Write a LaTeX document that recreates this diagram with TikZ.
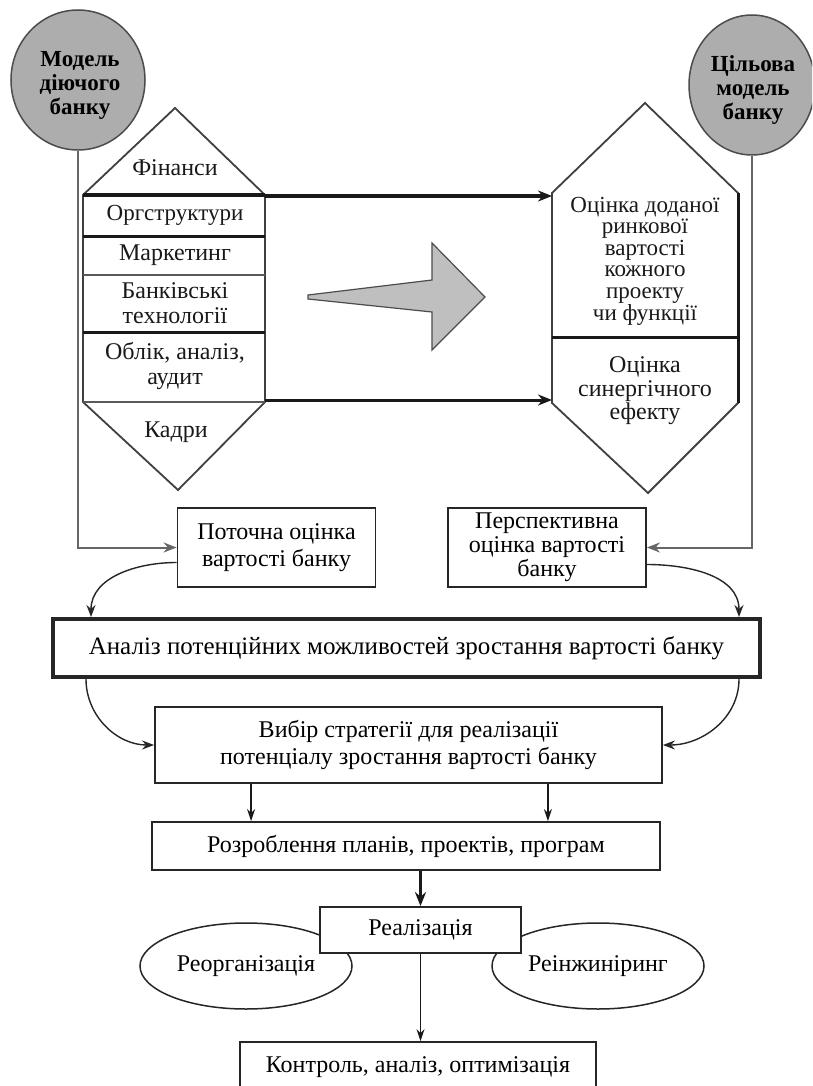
\documentclass[tikz,border=0pt]{standalone}
\usepackage{fontspec}
\setmainfont{Liberation Serif}
\usetikzlibrary{shapes.geometric,arrows.meta,calc}
\begin{document}
\begin{tikzpicture}[x=1pt,y=-1pt,
  txt/.style={font=\fontsize{24}{25}\selectfont, align=center, inner sep=0pt, text=black!90},
  ctxt/.style={font=\fontsize{23}{24}\selectfont\bfseries, align=center, inner sep=0pt},
  bubble/.style={ellipse, draw=black!70, line width=1.5pt, fill=black!32, inner sep=0pt},
  boxn/.style={draw=black!85, line width=1.8pt, fill=white, inner sep=0pt, align=center,
     font=\fontsize{24}{27}\selectfont},
  oval/.style={ellipse, draw=black!85, line width=1.5pt, inner sep=0pt, font=\fontsize{24}{27}\selectfont},
  feed/.style={draw=black!60, line width=2pt, -{Stealth[length=13pt,width=10pt]}},
  curv/.style={draw=black!85, line width=1.4pt, -{Stealth[length=12pt,width=9pt]}},
  down/.style={draw=black!90, line width=1.4pt, -{Stealth[length=12pt,width=8pt]}},
  bold/.style={draw=black!90, line width=3pt, -{Stealth[length=14pt,width=11pt]}},
  hexline/.style={draw=black!75, line width=1.8pt},
  thickdiv/.style={draw=black!90, line width=3pt},
  thindiv/.style={draw=black!65, line width=1.5pt}]
\clip (0,0) rectangle (812,1086);
\fill[white] (0,0) rectangle (812,1086);

% bubbles
\node[bubble, minimum width=134pt, minimum height=140pt] (m1) at (78,80) {};
\node[ctxt] (m1t) at (80,85) {Модель\\діючого\\банку};
\node[bubble, minimum width=126pt, minimum height=140pt] (m2) at (752,85) {};
\node[ctxt] (m2t) at (753,90) {Цільова\\модель\\банку};

% left hexagon
\path[hexline, fill=white] (83,195) -- (175,108) -- (265,195) -- (265,402) -- (178,490) -- (83,402) -- cycle;
\draw[thickdiv] (83,195) -- (265,195);
\draw[thickdiv] (83,236) -- (265,236);
\draw[thindiv] (83,275) -- (265,275);
\draw[thickdiv] (83,332) -- (265,332);
\draw[thindiv] (83,402) -- (265,402);
\node[txt] (fin) at (175,168) {Фінанси};
\node[txt, font=\fontsize{23}{24}\selectfont] (org) at (175,215) {Оргструктури};
\node[txt] (mar) at (175,255) {Маркетинг};
\node[txt] (ban) at (175,303) {Банківські\\технології};
\node[txt] (obl) at (175,366) {Облік, аналіз,\\аудит};
\node[txt] (kad) at (176,432) {Кадри};

% right hexagon
\path[hexline, fill=white] (552,193) -- (645,103) -- (738,193) -- (738,403) -- (648,493) -- (552,403) -- cycle;
\draw[thickdiv] (738,193) -- (738,403);
\draw[thickdiv] (552,337) -- (738,337);
\node[txt, font=\fontsize{23}{21.6}\selectfont] (ocd) at (645,261) {Оцінка доданої\\ринкової\\вартості\\кожного\\проекту\\чи функції};
\node[txt, font=\fontsize{24}{23.5}\selectfont] (ocs) at (645,391) {Оцінка\\синергічного\\ефекту};

% hexagon corner coordinates
\coordinate (L1) at (265,196);
\coordinate (R1) at (552,196);
\coordinate (L2) at (265,400);
\coordinate (R2) at (552,400);
\draw[bold] (L1) -- (R1);
\draw[bold] (L2) -- (R2);

% big gray arrow
\path[draw=black!70, line width=1.2pt, fill=black!25]
  (308,295) -- (432,280) -- (432,243) -- (485,297) -- (432,350) -- (432,312) -- (308,299) -- cycle;

% boxes
\node[boxn, minimum width=198pt, minimum height=79pt] (pot) at (276.5,547.5) {Поточна оцінка\\вартості банку};
\node[boxn, minimum width=198pt, minimum height=79pt, font=\fontsize{24}{24}\selectfont] (per) at (547,547.5) {Перспективна\\оцінка вартості\\банку};
\node[boxn, line width=4pt, minimum width=707pt, minimum height=58pt, font=\fontsize{25}{27}\selectfont] (an) at (406.5,648) {Аналіз потенційних можливостей зростання вартості банку};
\node[boxn, minimum width=507pt, minimum height=76pt] (vyb) at (408.5,745) {Вибір стратегії для реалізації\\потенціалу зростання вартості банку};
\node[boxn, minimum width=508pt, minimum height=48pt] (roz) at (406,846) {Розроблення планів, проектів, програм};

% ovals behind
\node[oval, minimum width=212pt, minimum height=86pt] (reo) at (246,966) {Реорганізація};
\node[oval, minimum width=212pt, minimum height=86pt] (rei) at (598,966) {Реінжиніринг};
\node[boxn, minimum width=201pt, minimum height=46pt] (real) at (420.5,930) {Реалізація};
\node[boxn, minimum width=356pt, minimum height=50pt] (kon) at (418,1067) {Контроль, аналіз, оптимізація};

% feedback lines from bubbles
\draw[feed] (m1.south) |- (pot.west);
\draw[feed] (m2.south) |- (per.east);

% curved arrows
\draw[curv] ([yshift=-15pt]pot.west) to[out=180,in=90] ([xshift=40pt]an.north west);
\draw[curv] ([yshift=-17pt]per.east) to[out=0,in=90] ([xshift=-23pt]an.north east);
\draw[curv] ([xshift=35pt]an.south west) to[out=-90,in=180] (vyb.west);
\draw[curv] ([xshift=-23pt]an.south east) to[out=-90,in=0] (vyb.east);

% downward arrows
\draw[down] ([xshift=97pt]vyb.south west) -- ([xshift=100pt]roz.north west);
\draw[down] ([xshift=-115pt]vyb.south east) -- ([xshift=-113pt]roz.north east);
\draw[bold, line width=2.5pt] (roz.south -| real.north) -- (real.north);
\draw[down, line width=1.2pt] (real.south) -- (real.south |- kon.north);
\end{tikzpicture}
\end{document}
